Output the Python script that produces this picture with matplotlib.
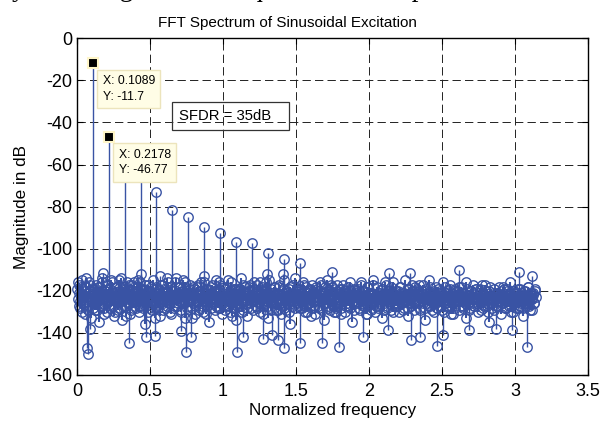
import numpy as np
import matplotlib
matplotlib.use("Agg")
import matplotlib.pyplot as plt
from matplotlib.patches import Rectangle

plt.rcParams['font.family'] = ['Liberation Sans', 'DejaVu Sans']
plt.rcParams['lines.scale_dashes'] = False
plt.rcParams['axes.unicode_minus'] = False

# harmonics of the sinusoid (normalized frequency, dB)
harm_x = [0.1089, 0.2178, 0.3267, 0.4356, 0.5445, 0.6534, 0.7623,
          0.8712, 0.9801, 1.0890, 1.1979, 1.3068, 1.4157, 1.5246]
harm_db = [-11.7, -46.77, -62, -65, -73, -81.6, -84.8,
           -89.5, -92.7, -96.7, -97.5, -102.2, -105, -106.6]

# noise floor, even and odd bins (interleaved, 0 .. pi)
noise_even_db = [
    -119, -124, -117, -128, -121, -115, -126, -122, -131, -118, -123, -127, -116, -120, -133, -125, -119, -122, -129, -117,
    -124, -121, -135, -118, -126, -114, -123, -128, -120, -117, -130, -122, -125, -119, -127, -116, -121, -132, -124, -118,
    -122, -129, -115, -125, -120, -134, -118, -123, -127, -121, -116, -126, -119, -131, -124, -117, -128, -122, -120, -125,
    -118, -123, -130, -116, -127, -121, -124, -119, -136, -122, -125, -117, -128, -120, -123, -129, -115, -126, -121, -118,
    -127, -120, -124, -132, -117, -122, -126, -119, -121, -128, -114, -125, -123, -130, -118, -124, -120, -127, -116, -122,
    -121, -126, -118, -123, -129, -120, -115, -125, -133, -119, -122, -127, -124, -117, -121, -128, -126, -119, -131, -123,
    -125, -117, -122, -128, -120, -124, -130, -116, -123, -121, -127, -119, -135, -122, -118, -126, -124, -120, -129, -115,
    -120, -128, -123, -117, -126, -131, -121, -119, -124, -127, -118, -122, -125, -130, -116, -123, -128, -121, -119, -134,
    -123, -119, -127, -121, -114, -125, -129, -122, -118, -126, -132, -120, -124, -117, -128, -122, -125, -119, -121, -127,
    -117, -124, -121, -130, -126, -118, -123, -127, -120, -116, -125, -133, -122, -128, -119, -124, -121, -126, -118, -129,
    -126, -122, -118, -125, -131, -120, -127, -115, -123, -129, -121, -124, -119, -136, -122, -126, -117, -123, -128, -120,
    -122, -127, -124, -119, -121, -128, -116, -125, -130, -118, -123, -126, -120, -122, -132, -117, -125, -121, -127, -124,
    -119, -125, -128, -122, -117, -124, -121, -134, -126, -120, -115, -127, -123, -129, -121, -118, -124, -130, -122, -126,
    -128, -120, -123, -126, -119, -131, -122, -117, -125, -121, -127, -124, -118, -123, -128, -120, -135, -125, -119, -122,
    -121, -126, -119, -124, -129, -116, -123, -127, -120, -125, -122, -131, -118, -126, -121, -124, -128, -117, -123, -130,
    -124, -118, -127, -121, -125, -122, -133, -119, -126, -123, -117, -128, -120, -125, -122, -129, -121, -116, -126, -123,
    -120, -127, -122, -130, -118, -124, -126, -121, -128, -115, -123, -125, -132, -119, -124, -127, -120, -122, -126, -118,
    -125, -121, -124, -117, -128, -122, -120, -126, -123, -134, -119, -124, -127, -121, -118, -125, -129, -123, -120, -126,
    -122, -128, -119, -125, -121, -127, -124, -116, -130, -122, -126, -120, -123, -128, -117, -124, -121, -131, -125, -119,
    -126, -120, -123, -129, -122, -118, -125, -127, -121, -124, -133, -119, -126, -122, -128, -120, -124, -117, -127, -123,
    -119, -124, -130, -121, -126, -123, -117, -128, -122, -125, -120, -127, -124, -135, -118, -123, -126, -121, -129, -122,
    -124, -127, -121, -118, -125, -131, -122, -126, -119, -123, -128, -120, -125, -122, -116, -127, -124, -130, -121, -126,
    -121, -125, -128, -123, -119, -126, -122, -132, -124, -120, -127, -123, -118, -125, -129, -121, -124, -122, -126, -120,
]
noise_odd_db = [
    -116, -127, -121, -125, -118, -130, -123, -120, -126, -114, -124, -129, -121, -117, -125, -122, -128, -119, -126, -123,
    -129, -118, -124, -121, -127, -116, -125, -131, -120, -123, -126, -119, -122, -128, -115, -124, -127, -121, -130, -118,
    -123, -126, -120, -128, -114, -125, -122, -127, -119, -132, -121, -124, -117, -126, -129, -120, -123, -116, -125, -128,
    -121, -115, -127, -123, -125, -119, -128, -122, -117, -126, -124, -130, -120, -123, -118, -127, -125, -121, -133, -119,
    -124, -128, -119, -126, -122, -117, -129, -121, -125, -120, -127, -116, -123, -126, -131, -119, -122, -128, -124, -114,
    -127, -121, -125, -118, -130, -124, -120, -126, -116, -123, -128, -121, -125, -119, -124, -133, -118, -122, -127, -125,
    -118, -124, -129, -122, -116, -127, -123, -125, -121, -131, -119, -126, -120, -124, -128, -117, -125, -122, -120, -127,
    -125, -120, -116, -128, -123, -121, -126, -118, -129, -124, -122, -115, -127, -121, -125, -132, -119, -124, -128, -122,
    -120, -126, -123, -119, -127, -130, -117, -124, -121, -125, -128, -122, -118, -126, -123, -120, -129, -116, -124, -127,
    -128, -122, -125, -116, -121, -124, -131, -119, -126, -123, -120, -127, -115, -125, -129, -121, -124, -118, -122, -126,
    -121, -129, -117, -124, -126, -122, -119, -128, -125, -120, -123, -126, -130, -118, -124, -121, -127, -125, -114, -123,
    -126, -119, -123, -128, -120, -125, -122, -117, -127, -124, -130, -121, -126, -119, -123, -128, -120, -125, -131, -118,
    -123, -127, -120, -116, -125, -129, -124, -121, -118, -126, -123, -128, -120, -125, -117, -122, -127, -124, -119, -130,
    -117, -124, -126, -121, -128, -119, -125, -123, -130, -120, -126, -122, -127, -116, -124, -121, -125, -129, -123, -120,
    -125, -122, -128, -124, -117, -126, -120, -123, -127, -131, -118, -124, -122, -126, -129, -121, -115, -125, -123, -127,
    -122, -128, -121, -126, -123, -119, -125, -129, -116, -124, -127, -120, -123, -126, -118, -124, -130, -122, -127, -121,
    -127, -120, -124, -118, -126, -123, -129, -121, -125, -122, -119, -128, -124, -121, -126, -117, -123, -129, -120, -125,
    -119, -126, -122, -129, -121, -125, -117, -124, -128, -120, -126, -123, -115, -127, -122, -125, -121, -130, -124, -118,
    -124, -121, -127, -120, -125, -129, -122, -126, -118, -124, -121, -127, -125, -119, -131, -123, -126, -120, -128, -122,
    -120, -125, -118, -127, -123, -121, -128, -124, -126, -116, -125, -122, -129, -123, -120, -126, -121, -127, -124, -119,
    -126, -122, -124, -119, -129, -125, -121, -127, -117, -123, -126, -130, -120, -124, -122, -128, -125, -119, -123, -127,
    -121, -127, -125, -123, -120, -126, -118, -124, -128, -122, -119, -125, -127, -121, -130, -123, -126, -120, -124, -128,
    -125, -119, -122, -127, -124, -121, -128, -120, -126, -123, -125, -118, -127, -122, -124, -129, -121, -126, -119, -123,
]

# isolated noise spikes standing out of the floor
spur_x = [0.071, 0.077, 0.090, 0.358, 0.475, 0.535, 0.710, 0.750, 0.780, 1.098,
          1.134, 1.276, 1.334, 1.380, 1.420, 1.530, 1.676, 1.797, 1.961, 2.130,
          2.290, 2.350, 2.468, 2.510, 2.687, 2.870, 2.980, 3.080,
          0.176, 0.440, 0.570, 0.870, 1.300, 1.410, 1.750, 2.140, 2.280, 2.620,
          3.030, 3.120]
spur_db = [-147, -150, -138, -145, -142, -141.5, -139, -149, -142, -149,
           -142, -143, -141, -143.5, -147, -145, -145, -146.5, -142, -138.5,
           -143.5, -142, -146, -141, -138.5, -138, -138.5, -146.5,
           -111.5, -112, -113, -113, -112, -112, -111, -111.5, -111.5, -110,
           -111, -113]

x_ticks = [0, 0.5, 1, 1.5, 2, 2.5, 3, 3.5]
y_ticks = [0, -20, -40, -60, -80, -100, -120, -140, -160]

blue = '#3953a4'
base = -121

fig = plt.figure(figsize=(6.03, 4.21), dpi=100)
ax = fig.add_axes([0.1277, 0.1093, 0.8473, 0.7997])

n_bins = len(noise_even_db) + len(noise_odd_db)
noise_x = np.linspace(0, np.pi, n_bins)
noise_db = np.empty(n_bins)
noise_db[0::2] = noise_even_db
noise_db[1::2] = noise_odd_db

for xs, ys, lw in [(noise_x, noise_db, 1.5), (spur_x, spur_db, 1.0), (harm_x, harm_db, 1.0)]:
    ml, sl, bl = ax.stem(xs, ys, bottom=base)
    plt.setp(sl, color=blue, linewidth=lw)
    plt.setp(ml, marker='o', markersize=6.8, markerfacecolor='none',
             markeredgecolor=blue, markeredgewidth=1.0, clip_on=False)
    bl.set_visible(False)

ax.set_xlim(0, 3.5)
ax.set_ylim(-160, 0)
ax.set_xticks(x_ticks)
ax.set_xticklabels(['0', '0.5', '1', '1.5', '2', '2.5', '3', '3.5'])
ax.set_yticks(y_ticks)
ax.tick_params(direction='in', top=True, right=True, length=4, labelsize=13, width=0.8)
ax.tick_params(axis='x', pad=6)
ax.grid(True, color='#222222', linestyle=(0, (6, 3)), linewidth=0.7)
for s in ax.spines.values():
    s.set_linewidth(1.0)

ax.set_title('FFT Spectrum of Sinusoidal Excitation', fontsize=11, pad=8, x=0.412)
ax.set_xlabel('Normalized frequency', fontsize=12.3, labelpad=2)
ax.set_ylabel('Magnitude in dB', fontsize=12.3, labelpad=5)

# data tips
tip_box = dict(boxstyle='square,pad=0.45', facecolor='#fffde6', edgecolor='#ece4bc', linewidth=1)
ax.text(0.175, -17.5, 'X: 0.1089\nY: -11.7', fontsize=8.8, va='top', ha='left',
        bbox=tip_box, zorder=5, linespacing=1.4)
ax.text(0.285, -52.5, 'X: 0.2178\nY: -46.77', fontsize=8.8, va='top', ha='left',
        bbox=tip_box, zorder=5, linespacing=1.4)
ax.plot(harm_x[:2], harm_db[:2], linestyle='none', marker='s', markersize=6.5,
        markerfacecolor='black', markeredgecolor='#fff6c8', markeredgewidth=1.5, zorder=6)

# SFDR annotation box
ax.add_patch(Rectangle((0.649, -43.6), 0.805, 13.2, fill=False,
                       edgecolor='#333333', linewidth=0.9, zorder=5))
ax.text(0.7, -37, 'SFDR = 35dB', fontsize=10.7, va='center', ha='left', zorder=5)

# clipped line of surrounding page text
fig.text(-0.005, 1 + 4 / 421, 'ity of the signal. The requirement is replaced with a ho',
         family='Liberation Serif', fontsize=19.5, va='baseline', ha='left')

fig.savefig('out.png', dpi=100)
